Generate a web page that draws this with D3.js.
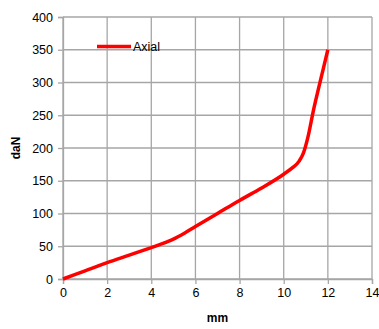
<!DOCTYPE html>
<html><head><meta charset="utf-8">
<script src="https://cdn.jsdelivr.net/npm/d3@7"></script>
<style>body{margin:0;background:#fff}svg{display:block}</style>
</head><body>
<script>
const seriesName = "Axial";
const xValues = [0, 1, 2, 3, 4, 4.5, 5, 5.5, 6, 7, 8, 9, 10, 10.4, 10.7, 10.9, 11.1, 11.35, 11.6, 11.8, 12];
const yValues = [0, 12.5, 25, 36.5, 48, 54, 61, 70, 80, 100, 120, 139, 160, 170, 180, 193, 217, 258, 294, 322, 350];
const xTicks = [0, 2, 4, 6, 8, 10, 12, 14];
const yTicks = [0, 50, 100, 150, 200, 250, 300, 350, 400];
const xLabel = "mm", yLabel = "daN";

const W = 379, H = 329;
const m = {left: 63, right: 7, top: 17, bottom: 50};
const svg = d3.select("body").append("svg").attr("width", W).attr("height", H);
const x = d3.scaleLinear().domain([0, 14]).range([m.left, W - m.right]);
const y = d3.scaleLinear().domain([0, 400]).range([H - m.bottom, m.top]);
const font = "'Liberation Sans', Arial, sans-serif";
const grid = "#a6a6a6";

const g = svg.append("g");
// gridlines
g.selectAll(".vg").data(xTicks).join("line")
  .attr("x1", d => x(d)).attr("x2", d => x(d)).attr("y1", y(0)).attr("y2", y(400))
  .attr("stroke", grid).attr("stroke-width", 1.3);
g.selectAll(".hg").data(yTicks).join("line")
  .attr("y1", d => y(d)).attr("y2", d => y(d)).attr("x1", x(0)).attr("x2", x(14))
  .attr("stroke", grid).attr("stroke-width", 1.3);

const xAxis = svg.append("g").attr("transform", `translate(0,${y(0)})`)
  .call(d3.axisBottom(x).tickValues(xTicks).tickSize(5).tickPadding(4));
const yAxis = svg.append("g").attr("transform", `translate(${x(0)},0)`)
  .call(d3.axisLeft(y).tickValues(yTicks).tickSize(5).tickPadding(5));
[xAxis, yAxis].forEach(a => {
  a.select(".domain").attr("stroke", grid).attr("stroke-width", 1.3);
  a.selectAll(".tick line").attr("stroke", grid).attr("stroke-width", 1.3);
  a.selectAll("text").attr("font-family", font).attr("font-size", 12.5).attr("fill", "#000");
});

const line = d3.line().x((d, i) => x(xValues[i])).y(d => y(d)).curve(d3.curveMonotoneX);
svg.append("path").datum(yValues).attr("d", line)
  .attr("fill", "none").attr("stroke", "#ff0000").attr("stroke-width", 3.5)
  .attr("stroke-linejoin", "round");

// legend
svg.append("line").attr("x1", 97).attr("x2", 131).attr("y1", 46.5).attr("y2", 46.5)
  .attr("stroke", "#ff0000").attr("stroke-width", 3.5);
svg.append("text").attr("x", 133).attr("y", 51).text(seriesName)
  .attr("font-family", font).attr("font-size", 12.5);

svg.append("text").attr("x", (x(0) + x(14)) / 2).attr("y", 322).attr("text-anchor", "middle")
  .attr("font-family", font).attr("font-size", 12).attr("font-weight", "bold").text(xLabel);
svg.append("text").attr("transform", `translate(20,${(y(0) + y(400)) / 2}) rotate(-90)`)
  .attr("text-anchor", "middle")
  .attr("font-family", font).attr("font-size", 12).attr("font-weight", "bold").text(yLabel);
</script>
</body></html>
